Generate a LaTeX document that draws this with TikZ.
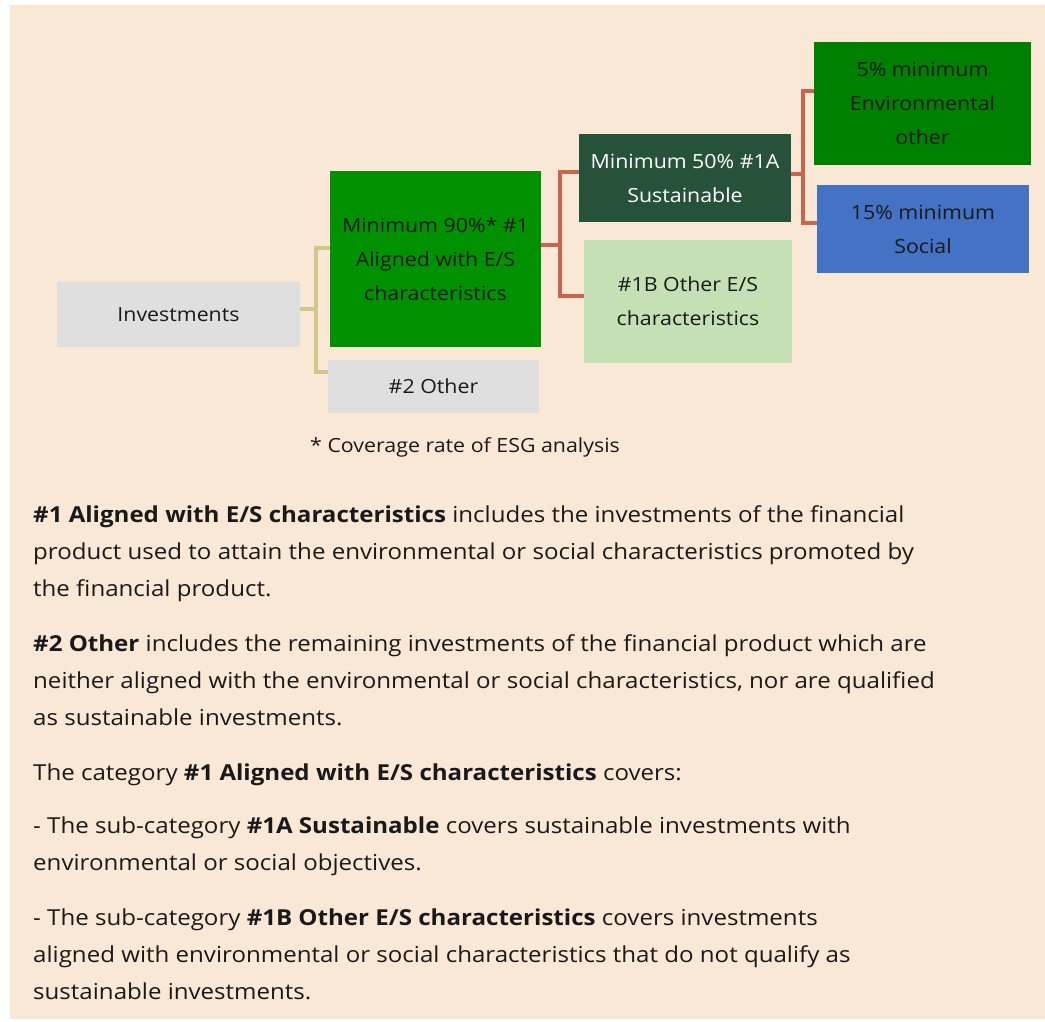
\documentclass[tikz,border=0pt]{standalone}
\usepackage{fontspec}
\setmainfont{Open Sans}[FakeStretch=1.095]
\definecolor{bgc}{HTML}{FAE8D7}
\definecolor{greyc}{HTML}{DFDFDF}
\definecolor{alc}{HTML}{009100}
\definecolor{darkg}{HTML}{27523A}
\definecolor{lightg}{HTML}{C5E0B4}
\definecolor{envg}{HTML}{008000}
\definecolor{socb}{HTML}{4472C4}
\definecolor{tanc}{HTML}{D0C78B}
\definecolor{redc}{HTML}{C9654D}
\tikzset{
  box/.style={rectangle, inner sep=0pt, align=center, font=\fontsize{19.5}{34}\selectfont, text=black!90},
  tanline/.style={draw=tanc, line width=4pt},
  redline/.style={draw=redc, line width=4pt},
  bodyl/.style={anchor=base west, inner sep=0pt, font=\fontsize{22}{37}\selectfont, text=black!90},
}
\begin{document}
\begin{tikzpicture}[x=1pt,y=-1pt]
\useasboundingbox (0,0) rectangle (1045,1021);
\fill[white] (0,0) rectangle (1045,1021);
\fill[bgc] (10,5) rectangle (1045,1019);

\node[box, fill=greyc, minimum width=243pt, minimum height=65pt] (inv) at (178.5,314.5) {Investments};
\node[box, fill=alc, minimum width=211pt, minimum height=176pt] (al) at (435.5,259) {Minimum 90\%* \#1\\Aligned with E/S\\characteristics};
\node[box, fill=greyc, minimum width=211pt, minimum height=53pt] (oth) at (433.5,386.5) {\#2 Other};
\node[box, fill=darkg, text=white, minimum width=212pt, minimum height=88pt] (sus) at (685,178) {Minimum 50\% \#1A\\Sustainable};
\node[box, fill=lightg, minimum width=208pt, minimum height=123pt] (oes) at (688,301.5) {\#1B Other E/S\\characteristics};
\node[box, fill=envg, minimum width=217pt, minimum height=123pt] (env) at (922.5,103.5) {5\% minimum\\Environmental\\other};
\node[box, fill=socb, minimum width=212pt, minimum height=88pt] (soc) at (923,229) {15\% minimum\\Social};

\coordinate (j1) at (316,309);
\draw[tanline] (inv.east |- j1) -- (j1);
\draw[tanline] (al.west |- 0,248) -| (j1) |- (oth.west |- 0,372);

\coordinate (j2) at (560,245);
\draw[redline] (al.east |- j2) -- (j2);
\draw[redline] (sus.west |- 0,172) -| (j2) |- (oes.west |- 0,296);

\coordinate (j3) at (803,174);
\draw[redline] (sus.east |- j3) -- (j3);
\draw[redline] (env.west |- 0,91) -| (j3) |- (soc.west |- 0,223);

\node[anchor=base west, inner sep=0pt, font=\fontsize{19.5}{34}\selectfont, text=black!90] (cov) at (310,452) {* Coverage rate of ESG analysis};

\node[bodyl] (p1a) at (33,522) {\textbf{\#1 Aligned with E/S characteristics} includes the investments of the financial};
\node[bodyl] (p1b) at (33,559) {product used to attain the environmental or social characteristics promoted by};
\node[bodyl] (p1c) at (33,596) {the financial product.};
\node[bodyl] (p2a) at (33,651) {\textbf{\#2 Other} includes the remaining investments of the financial product which are};
\node[bodyl] (p2b) at (33,688) {neither aligned with the environmental or social characteristics, nor are qualified};
\node[bodyl] (p2c) at (33,725) {as sustainable investments.};
\node[bodyl] (p3a) at (33,780) {The category \textbf{\#1 Aligned with E/S characteristics} covers:};
\node[bodyl] (p4a) at (33,833) {- The sub-category \textbf{\#1A Sustainable} covers sustainable investments with};
\node[bodyl] (p4b) at (33,870) {environmental or social objectives.};
\node[bodyl] (p5a) at (33,925) {- The sub-category \textbf{\#1B Other E/S characteristics} covers investments};
\node[bodyl] (p5b) at (33,962) {aligned with environmental or social characteristics that do not qualify as};
\node[bodyl] (p5c) at (33,999) {sustainable investments.};
\end{tikzpicture}
\end{document}
